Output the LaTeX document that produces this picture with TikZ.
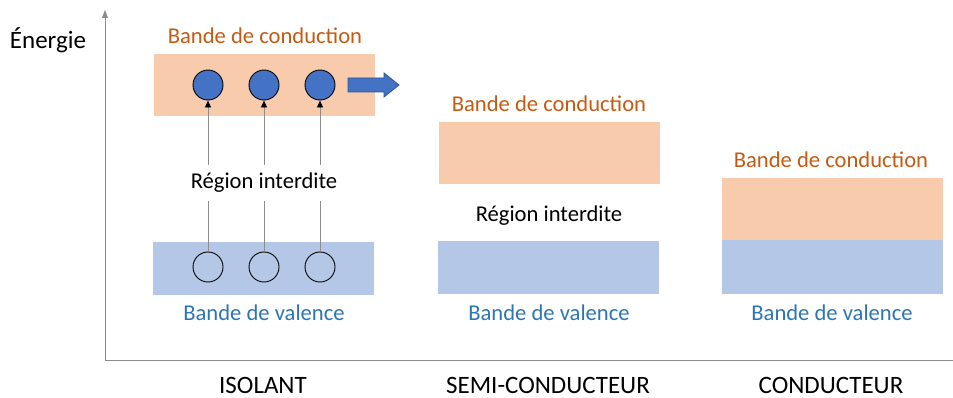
\documentclass[tikz,border=0pt]{standalone}
\usepackage{fontspec}
\setmainfont{Carlito}
\usetikzlibrary{arrows.meta}
\definecolor{orcond}{HTML}{F8CBAD}
\definecolor{blval}{HTML}{B4C7E7}
\definecolor{txtcond}{HTML}{C55A11}
\definecolor{txtval}{HTML}{2E75B6}
\definecolor{elec}{HTML}{4472C4}
\definecolor{elecbord}{HTML}{2F5597}
\definecolor{axegris}{HTML}{8C8C8C}

\begin{document}
\begin{tikzpicture}[x=1pt,y=-1pt,font=\fontsize{22.6}{27}\selectfont,
    bande/.style={inner sep=0pt, minimum width=221pt},
    titre/.style={font=\fontsize{25}{30}\selectfont},
    electron/.style={circle, draw=black, fill=elec, minimum size=30pt, inner sep=0pt, line width=0.9pt},
    trou/.style={circle, draw=black, fill=blval, minimum size=30pt, inner sep=0pt, line width=0.9pt},
    fleche/.style={axegris, line width=0.8pt, -{Triangle[black,length=7pt,width=6pt]}},
    axe/.style={axegris, line width=0.8pt}]
    \useasboundingbox (0,0) rectangle (953,398);
    % axes
    \coordinate (O) at (105,360);
    \coordinate (Ehaut) at (105,10);
    \coordinate (Xfin) at (953,360);
    \draw[axe, -{Triangle[length=8pt,width=6pt]}] (O) -- (Ehaut);
    \draw[axe] (O) -- (Xfin);
    \node[titre] (energie) at (48,40) {Énergie};
    % isolant
    \node[bande, fill=orcond, minimum height=62pt] (isoC) at (264.5,85) {};
    \node[bande, fill=blval, minimum height=53pt] (isoV) at (263.5,268.5) {};
    \node[txtcond] (isoCt) at (265,36) {Bande de conduction};
    \node[txtval] (isoVt) at (264,313) {Bande de valence};
    \foreach \x [count=\i] in {208,264,320} {
        \node[electron] (e\i) at (\x,85) {};
        \node[trou] (h\i) at (\x,267) {};
        \draw[fleche] (h\i) -- (e\i);
    }
    \node[fill=white, inner xsep=2pt, inner ysep=8pt] (isoR) at (264,183) {Région interdite};
    \draw[fill=elec, draw=elecbord, line width=0.8pt] (348,78) -- (384,78) -- (384,73) -- (399,85)
        -- (384,97) -- (384,92) -- (348,92) -- cycle;
    % semi-conducteur
    \node[bande, fill=orcond, minimum height=62pt] (semC) at (549,153) {};
    \node[bande, fill=blval, minimum height=53pt] (semV) at (548,267.5) {};
    \node[txtcond] (semCt) at (549,104) {Bande de conduction};
    \node (semR) at (549,216) {Région interdite};
    \node[txtval] (semVt) at (549,313) {Bande de valence};
    % conducteur
    \node[bande, fill=orcond, minimum height=62pt] (conC) at (832,209) {};
    \node[bande, fill=blval, minimum height=54pt] (conV) at (832,267) {};
    \node[txtcond] (conCt) at (831,160) {Bande de conduction};
    \node[txtval] (conVt) at (832,313) {Bande de valence};
    % titres
    \node[titre] (tIso) at (263,385) {ISOLANT};
    \node[titre] (tSem) at (548,385) {SEMI-CONDUCTEUR};
    \node[titre] (tCon) at (831,385) {CONDUCTEUR};
\end{tikzpicture}
\end{document}
